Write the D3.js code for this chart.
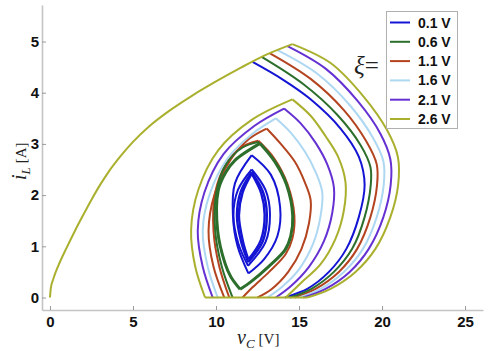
<!DOCTYPE html>
<html>
<head>
<meta charset="utf-8">
<script src="https://cdn.jsdelivr.net/npm/d3@7"></script>
<style>
  body { margin: 0; background: #fff; }
  #chart { width: 491px; height: 351px; }
</style>
</head>
<body>
<div id="chart"></div>
<script>
// ---- data (v_C in V, i_L in A) ----
const xiLabels = ['0.1 V', '0.6 V', '1.1 V', '1.6 V', '2.1 V', '2.6 V'];
const xiColors = ['#1414d4', '#2c6e2c', '#b4441f', '#aed8f2', '#6531d2', '#aab02e'];
const xTicks = [0, 5, 10, 15, 20, 25];
const yTicks = [0, 1, 2, 3, 4, 5];

// start-up trajectory from rest
const startup = [[0,0],[0.05,0.18],[0.2,0.36],[0.5,0.62],[1,0.97],[1.5,1.3],[2,1.61],[2.5,1.91],[3,2.19],[3.5,2.44],
                 [4.25,2.76],[5,3.04],[6,3.35],[7.2,3.65],[8.5,3.93],[10,4.22],[11.5,4.49],[13,4.74],[14.6,4.95]];
// DCM segment along i_L = 0
const zeroLine = [[9.34,0],[15.5,0]];

// first descending arcs after the start-up
const blueOuter   = [[12.2,4.6],[14.0,4.26],[15.66,3.88],[17.5,3.3],[18.6,2.75],[18.95,2.2],[18.6,1.57],[17.85,0.95],[16.8,0.5],[15.5,0.17],[14.15,0]];
const greenOuter  = [[12.75,4.7],[15.25,4.17],[17.3,3.57],[18.7,2.98],[19.3,2.55],[19.32,2.2],[18.95,1.57],[18.2,0.95],[17.1,0.5],[15.75,0.17],[14.45,0]];
const redOuter    = [[13.25,4.77],[15.7,4.27],[17.7,3.66],[19.05,3.05],[19.68,2.6],[19.7,2.2],[19.3,1.57],[18.5,0.95],[17.4,0.5],[16.0,0.17],[14.75,0]];
const lbOuter     = [[13.7,4.83],[16.1,4.37],[18.1,3.74],[19.45,3.12],[20.08,2.66],[20.1,2.2],[19.68,1.57],[18.85,0.95],[17.7,0.5],[16.3,0.17],[15.0,0]];
const purpleOuter = [[14.3,4.91],[16.6,4.47],[18.55,3.83],[19.9,3.2],[20.5,2.7],[20.52,2.2],[20.08,1.57],[19.2,0.95],[18.05,0.5],[16.6,0.17],[15.25,0]];
const oliveOuter  = [[14.6,4.95],[16.9,4.58],[18.9,3.92],[20.3,3.27],[20.95,2.75],[20.97,2.2],[20.5,1.57],[19.6,0.95],[18.4,0.5],[16.9,0.17],[15.5,0]];

// rising arcs of the later cycles
const oliveRise  = [[9.34,0],[8.75,0.6],[8.5,1.32],[8.93,2.1],[10.14,2.88],[12.15,3.47],[14.6,3.87]];
const purpleRise = [[9.8,0],[9.2,0.6],[8.9,1.3],[9.3,2.05],[10.45,2.8],[12.3,3.35],[14.1,3.69]];
const lbRise     = [[10.1,0],[9.5,0.6],[9.2,1.3],[9.6,2.0],[10.7,2.72],[12.2,3.2],[13.6,3.5]];
const redRise    = [[10.5,0],[9.85,0.6],[9.55,1.3],[9.9,2.0],[10.9,2.7],[12.0,3.1],[13.05,3.3]];
const redRise2   = [[10.8,0],[10.2,0.6],[9.85,1.3],[9.95,2.05],[10.6,2.6],[11.5,2.93],[12.55,3.06]];
const greenRise  = [[11.0,0],[10.35,0.6],[9.95,1.3],[10.02,2.05],[10.6,2.6],[11.6,2.93],[12.6,3.04]];
const greenLensL = [[11.45,0.16],[10.9,0.4],[10.54,0.67],[10.1,1.3],[10.14,2.1],[10.6,2.45],[11.14,2.68],[12.65,3.01]];
const blueLoopL  = [[11.95,0.47],[11.3,1.0],[11.02,1.6],[11.14,2.23],[12.15,2.78]];
const blueLensL1 = [[11.93,0.62],[11.35,1.05],[11.05,1.6],[11.32,2.1],[12.15,2.5]];
const blueLensL2 = [[11.94,0.69],[11.52,1.08],[11.26,1.6],[11.49,2.07],[12.15,2.45]];
const blueLensL3 = [[11.95,0.74],[11.62,1.1],[11.38,1.6],[11.6,2.05],[12.15,2.42]];

// falling arcs of the later cycles
const oliveFall  = [[14.6,3.87],[15.7,3.55],[16.6,3.15],[17.35,2.75],[17.8,2.25],[17.7,1.7],[17.2,1.15],[16.3,0.65],[15.1,0.28],[14.2,0]];
const purpleFall = [[14.1,3.69],[15.1,3.4],[16.0,3.02],[16.7,2.6],[17.1,2.15],[17.0,1.65],[16.5,1.1],[15.6,0.6],[14.5,0.22],[13.6,0]];
const lbFall     = [[13.6,3.5],[14.5,3.22],[15.35,2.85],[16.0,2.45],[16.4,2.05],[16.3,1.6],[15.85,1.05],[15.0,0.55],[13.95,0.2],[13.1,0]];
const redFall    = [[13.05,3.3],[13.9,3.0],[14.75,2.65],[15.35,2.25],[15.7,1.9],[15.6,1.45],[15.15,0.95],[14.35,0.5],[13.3,0.15],[12.5,0]];
const redFall2   = [[12.55,3.06],[13.5,2.72],[14.3,2.22],[14.72,1.6],[14.6,1.15],[14.2,0.85],[13.2,0.5],[12.2,0.2],[11.6,0]];
const greenLensR = [[12.65,3.01],[13.55,2.65],[14.25,2.2],[14.62,1.6],[14.5,1.2],[14.16,0.93],[13.15,0.6],[12.15,0.32],[11.45,0.16]];
const blueLoopR  = [[12.15,2.78],[13.3,2.4],[13.86,1.77],[13.7,1.2],[12.9,0.75],[11.95,0.47]];
const blueLensR1 = [[12.15,2.5],[12.98,2.1],[13.25,1.62],[12.98,1.08],[11.93,0.62]];
const blueLensR2 = [[12.15,2.45],[12.82,2.07],[13.06,1.62],[12.82,1.1],[11.94,0.69]];
const blueLensR3 = [[12.15,2.42],[12.72,2.04],[12.93,1.62],[12.7,1.12],[11.95,0.74]];

// traces: [series index, points, kind]
const traces = [
  [0, blueOuter], [0, blueLoopL], [0, blueLoopR],
  [0, blueLensL1], [0, blueLensR1], [0, blueLensL2], [0, blueLensR2], [0, blueLensL3], [0, blueLensR3],
  [2, redOuter], [2, redRise], [2, redFall], [2, redRise2], [2, redFall2],
  [1, greenOuter], [1, greenRise], [1, greenLensL], [1, greenLensR],
  [3, lbOuter], [3, lbRise], [3, lbFall],
  [4, purpleOuter], [4, purpleRise], [4, purpleFall],
  [5, oliveRise], [5, oliveFall], [5, oliveOuter], [5, startup, 'mono'], [5, zeroLine, 'lin']
];

// ---- chart ----
const W = 491, H = 351;
const svg = d3.select('#chart').append('svg')
    .attr('width', W)
    .attr('height', H);

const x = d3.scaleLinear().domain([-0.48, 26.08]).range([42, 483]);
const y = d3.scaleLinear().domain([-0.244, 5.713]).range([310, 5]);

// axes (left + bottom only, light grey, inward ticks)
const xAxis = svg.append('g')
    .attr('transform', 'translate(0,310)')
    .call(d3.axisBottom(x).tickValues(xTicks).tickFormat(d3.format('d'))
        .tickSize(-4).tickPadding(6).tickSizeOuter(0));
const yAxis = svg.append('g')
    .attr('transform', 'translate(42,0)')
    .call(d3.axisLeft(y).tickValues(yTicks).tickFormat(d3.format('d'))
        .tickSize(-4).tickPadding(3).tickSizeOuter(0));
[xAxis, yAxis].forEach(g => {
    g.select('.domain').attr('stroke', '#c4c4c4').attr('stroke-width', 1.6);
    g.selectAll('.tick line').attr('stroke', '#9a9a9a');
    g.selectAll('.tick text')
        .attr('font-family', '"Liberation Sans", Arial, sans-serif')
        .attr('font-weight', 'bold')
        .attr('font-size', 15)
        .attr('fill', '#111');
});

// trajectories
const lineOf = c => d3.line().x(d => x(d[0])).y(d => y(d[1])).curve(c);
const curved = lineOf(d3.curveCatmullRom.alpha(0.5));
const mono = lineOf(d3.curveMonotoneX);
const straight = lineOf(d3.curveLinear);

const plot = svg.append('g');
traces.forEach(([k, pts, kind]) => {
    const gen = kind === 'lin' ? straight : kind === 'mono' ? mono : curved;
    let thick = 2;
    if (pts === greenLensL || pts === greenLensR) thick = 3;
    if (pts === blueLensL2 || pts === blueLensR2 || pts === blueLensL3 || pts === blueLensR3) thick = 2.4;
    plot.append('path')
        .attr('d', gen(pts))
        .attr('fill', 'none')
        .attr('stroke', xiColors[k])
        .attr('stroke-width', thick)
        .attr('stroke-linejoin', 'round');
});

// axis labels
const xl = svg.append('text')
    .attr('x', 237).attr('y', 344)
    .attr('font-family', '"Liberation Serif", "DejaVu Serif", serif')
    .attr('fill', '#222');
xl.append('tspan').attr('font-style', 'italic').attr('font-size', 20).text('v');
xl.append('tspan').attr('font-style', 'italic').attr('font-size', 13).attr('dy', 4).text('C');
xl.append('tspan').attr('font-size', 15).attr('dy', -4).attr('dx', 4).text('[V]');

const yl = svg.append('text')
    .attr('transform', 'translate(26,180) rotate(-90)')
    .attr('font-family', '"Liberation Serif", "DejaVu Serif", serif')
    .attr('fill', '#222');
yl.append('tspan').attr('font-style', 'italic').attr('font-size', 20).text('i');
yl.append('tspan').attr('font-style', 'italic').attr('font-size', 13).attr('dy', 4).text('L');
yl.append('tspan').attr('font-size', 15).attr('dy', -4).attr('dx', 4).text('[A]');

// legend
const lg = svg.append('g');
lg.append('rect')
    .attr('x', 386.5).attr('y', 11.5)
    .attr('width', 71).attr('height', 117)
    .attr('fill', '#fff').attr('stroke', '#b0b0b0');
xiLabels.forEach((t, i) => {
    const ly = 22.5 + i * 19.3;
    lg.append('line')
        .attr('x1', 390).attr('x2', 410)
        .attr('y1', ly).attr('y2', ly)
        .attr('stroke', xiColors[i]).attr('stroke-width', 2);
    lg.append('text')
        .attr('x', 418).attr('y', ly + 5)
        .attr('font-family', '"Liberation Sans", Arial, sans-serif')
        .attr('font-weight', 'bold').attr('font-size', 14)
        .attr('fill', '#111')
        .text(t);
});
svg.append('text')
    .attr('x', 354).attr('y', 74)
    .attr('font-family', '"Liberation Serif", "DejaVu Serif", serif')
    .attr('font-size', 25).attr('fill', '#222')
    .html('<tspan font-style="italic">ξ</tspan>=');
</script>
</body>
</html>
